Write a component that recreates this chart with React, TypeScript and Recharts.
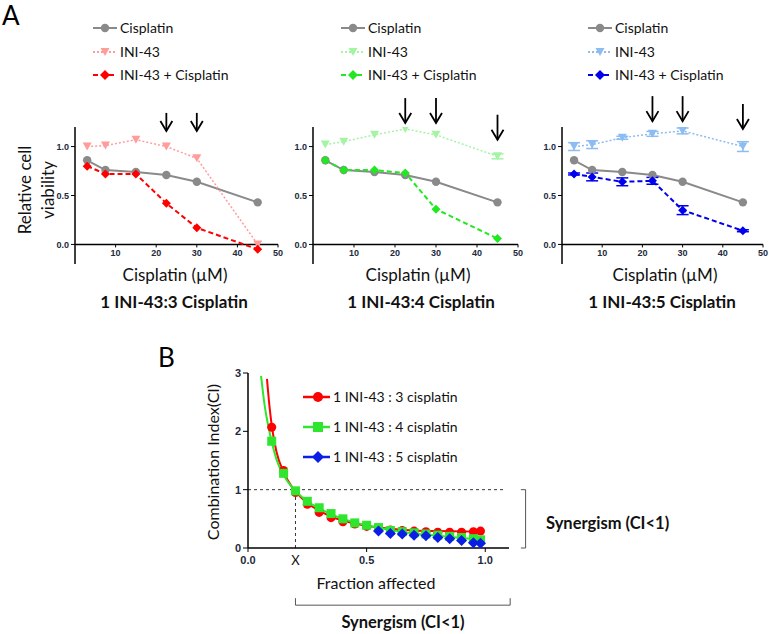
import { LineChart, Line, XAxis, YAxis, ReferenceLine, ReferenceDot, ErrorBar, ComposedChart, Scatter } from 'recharts'

// ---- Panel A: relative cell viability vs cisplatin dose ----
const doses = [3, 7.5, 15, 22.5, 30, 45]
const cisplatinAlone = [0.86, 0.76, 0.74, 0.71, 0.64, 0.43]

const ini43Ratio3 = [1.0, 1.01, 1.07, 1.0, 0.88, 0.0]
const comboRatio3 = [0.8, 0.72, 0.72, 0.42, 0.17, -0.05]

const ini43Ratio4 = [1.02, 1.05, 1.12, 1.18, 1.12, 0.9]
const ini43ErrRatio4 = [0, 0, 0, 0, 0, 0.025]
const comboRatio4 = [0.86, 0.76, 0.76, 0.73, 0.36, 0.06]

const ini43Ratio5 = [1.0, 1.02, 1.09, 1.13, 1.16, 1.0]
const ini43ErrRatio5 = [0.04, 0.04, 0.015, 0.025, 0.03, 0.05]
const comboRatio5 = [0.72, 0.69, 0.64, 0.65, 0.35, 0.14]
const comboErrRatio5 = [0.01, 0.04, 0.04, 0.035, 0.045, 0.01]

// arrows: dose and the viability level where the arrow tip sits
const arrowDoses3 = [22.5, 30]
const arrowTips3 = [1.16, 1.16]
const arrowDoses4 = [22.5, 30, 45]
const arrowTips4 = [1.24, 1.24, 1.07]
const arrowDoses5 = [22.5, 30, 45]
const arrowTips5 = [1.26, 1.26, 1.18]

const xTicksA = [10, 20, 30, 40, 50]
const yTicksA = [0, 0.5, 1]

// ---- Panel B: combination index vs fraction affected ----
const faRatio3 = [0.1, 0.15, 0.2, 0.25, 0.3, 0.35, 0.4, 0.45, 0.5, 0.55, 0.6, 0.65, 0.7, 0.75, 0.8, 0.85, 0.9, 0.95, 0.98]
const ciRatio3 = [2.07, 1.33, 0.95, 0.75, 0.61, 0.52, 0.45, 0.41, 0.37, 0.33, 0.31, 0.3, 0.29, 0.28, 0.27, 0.27, 0.27, 0.28, 0.29]
const faRatio4 = [0.1, 0.15, 0.2, 0.25, 0.3, 0.35, 0.4, 0.45, 0.5, 0.55, 0.6, 0.65, 0.7, 0.75, 0.8, 0.85, 0.9, 0.95, 0.98]
const ciRatio4 = [1.83, 1.28, 0.98, 0.8, 0.69, 0.59, 0.5, 0.43, 0.39, 0.35, 0.3, 0.28, 0.26, 0.24, 0.22, 0.2, 0.18, 0.16, 0.14]
const faRatio5 = [0.55, 0.6, 0.65, 0.7, 0.75, 0.8, 0.85, 0.9, 0.95, 0.98]
const ciRatio5 = [0.29, 0.25, 0.24, 0.22, 0.21, 0.18, 0.16, 0.13, 0.09, 0.08]

// fitted curves
const faFit3 = [0.08, 0.09, 0.1, 0.12, 0.15, 0.18, 0.2, 0.25, 0.3, 0.35, 0.4, 0.5, 0.6, 0.7, 0.8, 0.9, 0.99]
const ciFit3 = [2.9, 2.45, 2.1, 1.65, 1.3, 1.08, 0.97, 0.77, 0.64, 0.54, 0.47, 0.38, 0.33, 0.3, 0.29, 0.285, 0.28]
const faFit4 = [0.055, 0.07, 0.085, 0.1, 0.12, 0.15, 0.18, 0.2, 0.25, 0.3, 0.35, 0.4, 0.5, 0.6, 0.7, 0.8, 0.9, 0.99]
const ciFit4 = [2.95, 2.45, 2.1, 1.82, 1.52, 1.25, 1.07, 0.98, 0.8, 0.68, 0.58, 0.5, 0.39, 0.31, 0.25, 0.21, 0.17, 0.14]

const xTicksB = [0, 0.2, 0.5, 1]
const yTicksB = [0, 1, 2, 3]

const TICK_FONT = '"Liberation Sans", Arial, sans-serif'
const TICK_COLOR = '#222a3c'
const LABEL_FONT = 'Lato, "Open Sans", sans-serif'

const RED = '#ff0000'
const GREEN = '#2ee62e'
const BLUE = '#0b1ee6'
const GRAY = '#8a8a8a'

const zip = (xs: number[], ys: number[]) => xs.map((fa, i) => ({ fa, ci: ys[i] }))

// marker shapes
function TriDown({ cx, cy, color }: any) {
  if (cx == null || cy == null) return null
  return <polygon points={`${cx - 4.5},${cy - 4} ${cx + 4.5},${cy - 4} ${cx},${cy + 4}`} fill={color} />
}
function Diamond({ cx, cy, color, s = 5 }: any) {
  if (cx == null || cy == null) return null
  return <polygon points={`${cx},${cy - s} ${cx + s},${cy} ${cx},${cy + s} ${cx - s},${cy}`} fill={color} />
}
function Dot({ cx, cy, color, r = 4.5 }: any) {
  if (cx == null || cy == null) return null
  return <circle cx={cx} cy={cy} r={r} fill={color} />
}
function Square({ cx, cy, color, s = 4.5 }: any) {
  if (cx == null || cy == null) return null
  return <rect x={cx - s} y={cy - s} width={s * 2} height={s * 2} fill={color} />
}

function Arrow({ cx, cy, len }: any) {
  if (cx == null || cy == null) return null
  return (
    <g stroke="#000" strokeWidth={1.8} fill="none">
      <line x1={cx} y1={cy - len} x2={cx} y2={cy} />
      <polyline points={`${cx - 6},${cy - 10} ${cx},${cy} ${cx + 6},${cy - 10}`} />
    </g>
  )
}

// x tick labels sit on the y = 0 line, not at the bottom of the plot
function ZeroLineTick({ x, y, payload, zeroOffset }: any) {
  const y0 = y - zeroOffset
  return (
    <g>
      <line x1={x} x2={x} y1={y0} y2={y0 + 3} stroke="#000" />
      <text x={x} y={y0 + 12} textAnchor="middle" fontSize={9} fontWeight={700} fill={TICK_COLOR} fontFamily={TICK_FONT}>
        {payload.value}
      </text>
    </g>
  )
}

const PLOT_H_A = 137

function ViabilityPanel({ left, plotWidth, ini43, ini43Err, combo, comboErr, ini43Color, comboColor, arrowDoses, arrowTips, arrowLen }: any) {
  const rows = doses.map((dose, i) => ({
    dose,
    cis: cisplatinAlone[i],
    ini: ini43[i],
    iniErr: ini43Err ? ini43Err[i] : 0,
    combo: combo[i],
    comboErr: comboErr ? comboErr[i] : 0,
  }))
  const width = 30 + plotWidth + 6
  return (
    <div style={{ position: 'absolute', left, top: 80 }}>
      <LineChart width={width} height={47 + PLOT_H_A + 2 + 5} data={rows} margin={{ top: 47, right: 6, bottom: 5, left: 0 }}>
        <XAxis
          type="number"
          dataKey="dose"
          domain={[0, 50]}
          ticks={xTicksA}
          interval={0}
          axisLine={false}
          tickLine={false}
          tickSize={0}
          tickMargin={0}
          height={2}
          tick={<ZeroLineTick zeroOffset={(PLOT_H_A * 0.2) / 1.4} />}
        />
        <YAxis
          domain={[-0.2, 1.2]}
          ticks={yTicksA}
          width={30}
          allowDataOverflow
          tickFormatter={(v: number) => v.toFixed(1)}
          axisLine={{ stroke: '#000', strokeWidth: 1.5 }}
          tickLine={{ stroke: '#000' }}
          tickSize={4}
          tickMargin={2}
          tick={{ fontSize: 9, fontWeight: 700, fill: TICK_COLOR, fontFamily: TICK_FONT }}
        />
        <ReferenceLine y={0} stroke="#000" strokeWidth={1.5} />
        <Line dataKey="cis" stroke={GRAY} strokeWidth={2} isAnimationActive={false}
          dot={(p: any) => <Dot key={`c${p.index}`} cx={p.cx} cy={p.cy} color={GRAY} r={4.2} />} />
        <Line dataKey="ini" stroke={ini43Color} strokeWidth={1.5} strokeDasharray="2 2" isAnimationActive={false}
          dot={(p: any) => <TriDown key={`t${p.index}`} cx={p.cx} cy={p.cy} color={ini43Color} />}>
          {ini43Err && <ErrorBar dataKey="iniErr" width={6} stroke={ini43Color} strokeWidth={1.5} direction="y" />}
        </Line>
        <Line dataKey="combo" stroke={comboColor} strokeWidth={2} strokeDasharray="5 3" isAnimationActive={false}
          dot={(p: any) => <Diamond key={`d${p.index}`} cx={p.cx} cy={p.cy} color={comboColor} s={4.5} />}>
          {comboErr && <ErrorBar dataKey="comboErr" width={6} stroke={comboColor} strokeWidth={1.5} direction="y" />}
        </Line>
        {arrowDoses.map((d: number, i: number) => (
          <ReferenceDot key={`a${i}`} x={d} y={arrowTips[i]} ifOverflow="visible" r={0}
            shape={(p: any) => <Arrow cx={p.cx} cy={p.cy} len={arrowLen} />} />
        ))}
      </LineChart>
    </div>
  )
}

function FaTick({ x, y, payload }: any) {
  const isX = payload.value === 0.2
  return (
    <g>
      {!isX && <line x1={x} x2={x} y1={y} y2={y + 4} stroke="#000" />}
      {isX ? (
        <text x={x} y={y + 17} textAnchor="middle" fontSize={13} fill="#111" fontFamily={LABEL_FONT}>X</text>
      ) : (
        <text x={x} y={y + 16} textAnchor="middle" fontSize={11} fontWeight={700} fill={TICK_COLOR} fontFamily={TICK_FONT}>
          {payload.value.toFixed(1)}
        </text>
      )}
    </g>
  )
}

function LegendRowA({ x, y, label, color, dash, marker }: any) {
  return (
    <g>
      <line x1={x} x2={x + 24} y1={y} y2={y} stroke={color} strokeWidth={2} strokeDasharray={dash} />
      {marker === 'dot' && <Dot cx={x + 12} cy={y} color={color} r={4.2} />}
      {marker === 'tri' && <TriDown cx={x + 12} cy={y} color={color} />}
      {marker === 'dia' && <Diamond cx={x + 12} cy={y} color={color} s={5} />}
      <text x={x + 27} y={y + 5} fontSize={14} fontFamily={LABEL_FONT} fill="#111">{label}</text>
    </g>
  )
}

function LegendA({ x, ini43Color, comboColor }: any) {
  return (
    <g>
      <LegendRowA x={x} y={28} label="Cisplatin" color={GRAY} marker="dot" />
      <LegendRowA x={x} y={52} label="INI-43" color={ini43Color} dash="2 2" marker="tri" />
      <LegendRowA x={x} y={75} label="INI-43 + Cisplatin" color={comboColor} dash="5 3" marker="dia" />
    </g>
  )
}

export default function App() {
  const redPts = zip(faRatio3, ciRatio3)
  const greenPts = zip(faRatio4, ciRatio4)
  const bluePts = zip(faRatio5, ciRatio5)
  const redFit = zip(faFit3, ciFit3)
  const greenFit = zip(faFit4, ciFit4)

  return (
    <div style={{ position: 'absolute', left: 0, top: 0, width: 769, height: 634, background: '#fff', fontFamily: LABEL_FONT }}>
      <ViabilityPanel left={45} plotWidth={203} ini43={ini43Ratio3} combo={comboRatio3}
        ini43Color="#ff9c9c" comboColor={RED} arrowDoses={arrowDoses3} arrowTips={arrowTips3} arrowLen={18} />
      <ViabilityPanel left={283} plotWidth={205} ini43={ini43Ratio4} ini43Err={ini43ErrRatio4} combo={comboRatio4}
        ini43Color="#a4f4a4" comboColor="#22e822" arrowDoses={arrowDoses4} arrowTips={arrowTips4} arrowLen={25} />
      <ViabilityPanel left={532} plotWidth={201} ini43={ini43Ratio5} ini43Err={ini43ErrRatio5} combo={comboRatio5} comboErr={comboErrRatio5}
        ini43Color="#8dbcf2" comboColor="#0000ee" arrowDoses={arrowDoses5} arrowTips={arrowTips5} arrowLen={25} />

      <div style={{ position: 'absolute', left: 218, top: 360 }}>
        <ComposedChart width={313} height={250} margin={{ top: 13, right: 22, bottom: 42, left: 0 }}>
          <XAxis
            type="number"
            dataKey="fa"
            domain={[0, 1.1]}
            ticks={xTicksB}
            interval={0}
            allowDataOverflow
            axisLine={{ stroke: '#000', strokeWidth: 1.5 }}
            tickLine={false}
            tickSize={0}
            tickMargin={0}
            height={20}
            tick={<FaTick />}
          />
          <YAxis
            dataKey="ci"
            domain={[0, 3]}
            ticks={yTicksB}
            width={30}
            allowDataOverflow
            axisLine={{ stroke: '#000', strokeWidth: 1.5 }}
            tickLine={{ stroke: '#000' }}
            tickSize={5}
            tickMargin={2}
            tick={{ fontSize: 11, fontWeight: 700, fill: TICK_COLOR, fontFamily: TICK_FONT }}
          />
          <ReferenceLine segment={[{ x: 0, y: 1 }, { x: 1.08, y: 1 }]} stroke="#333" strokeDasharray="3 3" />
          <ReferenceLine segment={[{ x: 0.2, y: 0 }, { x: 0.2, y: 1 }]} stroke="#333" strokeDasharray="3 3" />
          {/* right bracket, CI between 0 and 1 */}
          <ReferenceLine ifOverflow="visible" segment={[{ x: 1.17, y: 0 }, { x: 1.17, y: 1 }]} stroke="#555" />
          <ReferenceLine ifOverflow="visible" segment={[{ x: 1.15, y: 1 }, { x: 1.17, y: 1 }]} stroke="#555" />
          <ReferenceLine ifOverflow="visible" segment={[{ x: 1.15, y: 0 }, { x: 1.17, y: 0 }]} stroke="#555" />
          {/* bottom bracket, fa from X onwards */}
          <ReferenceLine ifOverflow="visible" segment={[{ x: 0.2, y: -0.98 }, { x: 1.105, y: -0.98 }]} stroke="#555" />
          <ReferenceLine ifOverflow="visible" segment={[{ x: 0.2, y: -0.98 }, { x: 0.2, y: -0.86 }]} stroke="#555" />
          <ReferenceLine ifOverflow="visible" segment={[{ x: 1.105, y: -0.98 }, { x: 1.105, y: -0.86 }]} stroke="#555" />
          <Line data={redFit} dataKey="ci" type="monotone" stroke={RED} strokeWidth={2} dot={false} isAnimationActive={false} />
          <Line data={greenFit} dataKey="ci" type="monotone" stroke={GREEN} strokeWidth={2} dot={false} isAnimationActive={false} />
          <Scatter data={redPts} dataKey="ci" isAnimationActive={false} shape={(p: any) => <Dot cx={p.cx} cy={p.cy} color={RED} r={4.5} />} />
          <Scatter data={greenPts} dataKey="ci" isAnimationActive={false} shape={(p: any) => <Square cx={p.cx} cy={p.cy} color={GREEN} s={4.5} />} />
          <Scatter data={bluePts} dataKey="ci" isAnimationActive={false} shape={(p: any) => <Diamond cx={p.cx} cy={p.cy} color={BLUE} s={5.5} />} />
        </ComposedChart>
      </div>

      <svg width={769} height={634} style={{ position: 'absolute', left: 0, top: 0, pointerEvents: 'none' }}>
        <text x={2} y={25} fontSize={26} fontFamily={LABEL_FONT} fill="#000">A</text>
        <text x={158} y={367} fontSize={26} fontFamily={LABEL_FONT} fill="#000">B</text>

        <LegendA x={93} ini43Color="#ff9c9c" comboColor={RED} />
        <LegendA x={341} ini43Color="#a4f4a4" comboColor="#22e822" />
        <LegendA x={588} ini43Color="#8dbcf2" comboColor="#0000ee" />

        <g fontSize={17} fontFamily={LABEL_FONT} fill="#111" textAnchor="middle">
          <text x={24} y={190} transform="rotate(-90 24 190)" dominantBaseline="central">Relative cell</text>
          <text x={47} y={190} transform="rotate(-90 47 190)" dominantBaseline="central">viability</text>
        </g>

        <g fontSize={17} fontFamily={LABEL_FONT} fill="#111" textAnchor="middle">
          <text x={175} y={281}>Cisplatin (µM)</text>
          <text x={418} y={281}>Cisplatin (µM)</text>
          <text x={665} y={281}>Cisplatin (µM)</text>
        </g>
        <g fontSize={17} fontWeight={700} fontFamily={LABEL_FONT} fill="#111" textAnchor="middle">
          <text x={174} y={308}>1 INI-43:3 Cisplatin</text>
          <text x={421} y={308}>1 INI-43:4 Cisplatin</text>
          <text x={662} y={308}>1 INI-43:5 Cisplatin</text>
        </g>

        {/* legend B */}
        <g fontSize={14} fontFamily={LABEL_FONT} fill="#111">
          <line x1={303} x2={330} y1={397} y2={397} stroke={RED} strokeWidth={2.5} />
          <Dot cx={318} cy={397} color={RED} r={5} />
          <text x={333} y={402}>1 INI-43 : 3 cisplatin</text>
          <line x1={303} x2={330} y1={427} y2={427} stroke={GREEN} strokeWidth={2.5} />
          <Square cx={318} cy={427} color={GREEN} s={5} />
          <text x={333} y={432}>1 INI-43 : 4 cisplatin</text>
          <line x1={303} x2={330} y1={457} y2={457} stroke={BLUE} strokeWidth={2.5} />
          <Diamond cx={318} cy={457} color={BLUE} s={6} />
          <text x={333} y={462}>1 INI-43 : 5 cisplatin</text>
        </g>

        <g fontSize={16} fontFamily={LABEL_FONT} fill="#111" textAnchor="middle">
          <text x={212} y={462} transform="rotate(-90 212 462)" dominantBaseline="central">Combination Index(CI)</text>
          <text x={376} y={589}>Fraction affected</text>
        </g>
        <g fontSize={16.5} fontWeight={700} fontFamily={LABEL_FONT} fill="#111">
          <text x={546} y={529}>Synergism (CI&lt;1)</text>
          <text x={403} y={628} textAnchor="middle">Synergism (CI&lt;1)</text>
        </g>
      </svg>
    </div>
  )
}
